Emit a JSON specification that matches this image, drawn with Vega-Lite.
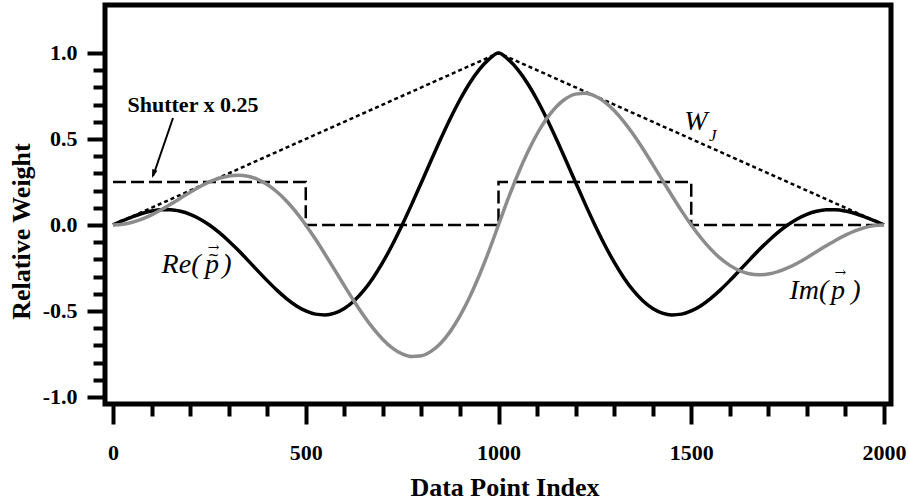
{
  "$schema": "https://vega.github.io/schema/vega-lite/v6.json",
  "width": 786,
  "height": 399,
  "autosize": "none",
  "padding": {"left": 105, "top": 5, "right": 17, "bottom": 100},
  "background": "white",
  "config": {"view": {"stroke": "black", "strokeWidth": 5}},
  "datasets": {
    "curves": [
      {"n":0,"re":0,"im":0},{"n":25,"re":0.0247,"im":0.0039},{"n":50,"re":0.0476,"im":0.0155},{"n":75,"re":0.0668,"im":0.034},
      {"n":100,"re":0.0809,"im":0.0588},{"n":125,"re":0.0884,"im":0.0884},{"n":150,"re":0.0882,"im":0.1214},{"n":175,"re":0.0794,"im":0.1559},
      {"n":200,"re":0.0618,"im":0.1902},{"n":225,"re":0.0352,"im":0.2222},{"n":250,"re":0,"im":0.25},{"n":275,"re":-0.043,"im":0.2716},
      {"n":300,"re":-0.0927,"im":0.2853},{"n":325,"re":-0.1475,"im":0.2896},{"n":350,"re":-0.2057,"im":0.2832},{"n":375,"re":-0.2652,"im":0.2652},
      {"n":400,"re":-0.3236,"im":0.2351},{"n":425,"re":-0.3787,"im":0.1929},{"n":450,"re":-0.428,"im":0.1391},{"n":475,"re":-0.4692,"im":0.0743},
      {"n":500,"re":-0.5,"im":0},{"n":525,"re":-0.5185,"im":-0.0821},{"n":550,"re":-0.5231,"im":-0.17},{"n":575,"re":-0.5123,"im":-0.261},
      {"n":600,"re":-0.4854,"im":-0.3527},{"n":625,"re":-0.4419,"im":-0.4419},{"n":650,"re":-0.3821,"im":-0.5259},{"n":675,"re":-0.3064,"im":-0.6014},
      {"n":700,"re":-0.2163,"im":-0.6657},{"n":725,"re":-0.1134,"im":-0.7161},{"n":750,"re":0,"im":-0.75},{"n":775,"re":0.1212,"im":-0.7655},
      {"n":800,"re":0.2472,"im":-0.7608},{"n":825,"re":0.3745,"im":-0.7351},{"n":850,"re":0.4996,"im":-0.6877},{"n":875,"re":0.6187,"im":-0.6187},
      {"n":900,"re":0.7281,"im":-0.529},{"n":925,"re":0.8242,"im":-0.4199},{"n":950,"re":0.9035,"im":-0.2936},{"n":975,"re":0.963,"im":-0.1525},
      {"n":1000,"re":1,"im":0},{"n":1025,"re":0.963,"im":0.1525},{"n":1050,"re":0.9035,"im":0.2936},{"n":1075,"re":0.8242,"im":0.4199},
      {"n":1100,"re":0.7281,"im":0.529},{"n":1125,"re":0.6187,"im":0.6187},{"n":1150,"re":0.4996,"im":0.6877},{"n":1175,"re":0.3745,"im":0.7351},
      {"n":1200,"re":0.2472,"im":0.7608},{"n":1225,"re":0.1212,"im":0.7655},{"n":1250,"re":0,"im":0.75},{"n":1275,"re":-0.1134,"im":0.7161},
      {"n":1300,"re":-0.2163,"im":0.6657},{"n":1325,"re":-0.3064,"im":0.6014},{"n":1350,"re":-0.3821,"im":0.5259},{"n":1375,"re":-0.4419,"im":0.4419},
      {"n":1400,"re":-0.4854,"im":0.3527},{"n":1425,"re":-0.5123,"im":0.261},{"n":1450,"re":-0.5231,"im":0.17},{"n":1475,"re":-0.5185,"im":0.0821},
      {"n":1500,"re":-0.5,"im":0},{"n":1525,"re":-0.4692,"im":-0.0743},{"n":1550,"re":-0.428,"im":-0.1391},{"n":1575,"re":-0.3787,"im":-0.1929},
      {"n":1600,"re":-0.3236,"im":-0.2351},{"n":1625,"re":-0.2652,"im":-0.2652},{"n":1650,"re":-0.2057,"im":-0.2832},{"n":1675,"re":-0.1475,"im":-0.2896},
      {"n":1700,"re":-0.0927,"im":-0.2853},{"n":1725,"re":-0.043,"im":-0.2716},{"n":1750,"re":0,"im":-0.25},{"n":1775,"re":0.0352,"im":-0.2222},
      {"n":1800,"re":0.0618,"im":-0.1902},{"n":1825,"re":0.0794,"im":-0.1559},{"n":1850,"re":0.0882,"im":-0.1214},{"n":1875,"re":0.0884,"im":-0.0884},
      {"n":1900,"re":0.0809,"im":-0.0588},{"n":1925,"re":0.0668,"im":-0.034},{"n":1950,"re":0.0476,"im":-0.0155},{"n":1975,"re":0.0247,"im":-0.0039},
      {"n":2000,"re":0,"im":0}
    ],
    "shutter": [
      {"i":0,"n":0,"v":0.25},{"i":1,"n":500,"v":0.25},{"i":2,"n":500,"v":0},{"i":3,"n":1000,"v":0},
      {"i":4,"n":1000,"v":0.25},{"i":5,"n":1500,"v":0.25},{"i":6,"n":1500,"v":0},{"i":7,"n":2000,"v":0}
    ],
    "window": [{"n":0,"v":0},{"n":1000,"v":1},{"n":2000,"v":0}],
    "arrow": [{"n":155.6,"v":0.622,"n2":104,"v2":0.285}],
    "arrowhead": [{"n":101.2,"v":0.273}],
    "labels": [
      {"n":207.5,"v":0.698,"t":"Shutter x 0.25"}
    ],
    "italics": [
      {"n":176.4,"v":-0.279,"t":"Re(","fs":28},
      {"n":256.8,"v":-0.279,"t":"p","fs":28},
      {"n":295.7,"v":-0.279,"t":")","fs":28},
      {"n":1805.4,"v":-0.43,"t":"Im(","fs":28},
      {"n":1880.7,"v":-0.43,"t":"p","fs":28},
      {"n":1927.4,"v":-0.43,"t":")","fs":28},
      {"n":1512,"v":0.55,"t":"W","fs":28},
      {"n":1556,"v":0.49,"t":"J","fs":17}
    ],
    "accents": [
      {"n":261,"v":-0.18,"t":"~","fs":14},
      {"n":261,"v":-0.135,"t":"→","fs":14},
      {"n":1887,"v":-0.28,"t":"→","fs":14}
    ]
  },
  "layer": [
    {
      "data": {"name": "shutter"},
      "mark": {"type": "line", "color": "black", "strokeWidth": 2.5, "strokeDash": [13, 5]},
      "encoding": {
        "x": {"field": "n", "type": "quantitative", "scale": {"domain": [-20.8, 2018.2], "nice": false, "zero": false},
          "axis": {
            "values": [0,100,200,300,400,500,600,700,800,900,1000,1100,1200,1300,1400,1500,1600,1700,1800,1900,2000],
            "tickCount": 100,
            "format": "d",
            "labelExpr": "datum.value % 500 === 0 ? datum.label : ''",
            "domain": false, "grid": false,
            "ticks": true, "tickColor": "black", "tickWidth": 4,
            "tickSize": {"condition": {"test": "datum.value % 500 === 0", "value": 20}, "value": 12},
            "labelFont": "Liberation Serif", "labelFontWeight": "bold", "labelFontSize": 22, "labelColor": "black",
            "labelPadding": 18, "labelFlush": false, "labelOverlap": false,
            "title": "Data Point Index", "titleFont": "Liberation Serif", "titleFontWeight": "bold", "titleFontSize": 26, "titleColor": "black",
            "titleX": 399.5, "titleY": 91, "titleBaseline": "alphabetic", "titleAnchor": null
          }},
        "y": {"field": "v", "type": "quantitative", "scale": {"domain": [-1.041, 1.279], "nice": false, "zero": false},
          "axis": {
            "values": [-1,-0.9,-0.8,-0.7,-0.6,-0.5,-0.4,-0.3,-0.2,-0.1,0,0.1,0.2,0.3,0.4,0.5,0.6,0.7,0.8,0.9,1],
            "tickCount": 100,
            "labelExpr": "abs(round(datum.value*10)) % 5 === 0 ? (datum.value < -0.01 ? '-' + format(abs(datum.value), '.1f') : format(abs(datum.value), '.1f')) : ''",
            "domain": false, "grid": false,
            "ticks": true, "tickColor": "black", "tickWidth": 4,
            "tickSize": {"condition": {"test": "abs(round(datum.value*10)) % 5 === 0", "value": 18}, "value": 12},
            "labelFont": "Liberation Serif", "labelFontWeight": "bold", "labelFontSize": 22, "labelColor": "black",
            "labelPadding": 10, "labelFlush": false, "labelOverlap": false,
            "title": "Relative Weight", "titleFont": "Liberation Serif", "titleFontWeight": "bold", "titleFontSize": 26, "titleColor": "black",
            "titleX": -76, "titleY": 226, "titleBaseline": "alphabetic", "titleAngle": -90, "titleAnchor": null
          }},
        "order": {"field": "i", "type": "quantitative"}
      }
    },
    {
      "data": {"name": "window"},
      "mark": {"type": "line", "color": "black", "strokeWidth": 2.5, "strokeDash": [4, 3]},
      "encoding": {
        "x": {"field": "n", "type": "quantitative"},
        "y": {"field": "v", "type": "quantitative"}
      }
    },
    {
      "data": {"name": "curves"},
      "mark": {"type": "line", "color": "black", "strokeWidth": 3.5, "interpolate": "monotone"},
      "encoding": {
        "x": {"field": "n", "type": "quantitative"},
        "y": {"field": "re", "type": "quantitative"}
      }
    },
    {
      "data": {"name": "curves"},
      "mark": {"type": "line", "color": "#8c8c8c", "strokeWidth": 3.5, "interpolate": "monotone"},
      "encoding": {
        "x": {"field": "n", "type": "quantitative"},
        "y": {"field": "im", "type": "quantitative"}
      }
    },
    {
      "data": {"name": "arrow"},
      "mark": {"type": "rule", "color": "black", "strokeWidth": 2},
      "encoding": {
        "x": {"field": "n", "type": "quantitative"},
        "y": {"field": "v", "type": "quantitative"},
        "x2": {"field": "n2"},
        "y2": {"field": "v2"}
      }
    },
    {
      "data": {"name": "arrowhead"},
      "mark": {"type": "point", "shape": "M0,0L0.45,1.4L-0.45,1.4Z", "filled": true, "color": "black", "opacity": 1, "size": 150, "angle": 199},
      "encoding": {
        "x": {"field": "n", "type": "quantitative"},
        "y": {"field": "v", "type": "quantitative"}
      }
    },
    {
      "data": {"name": "labels"},
      "mark": {"type": "text", "font": "Liberation Serif", "fontWeight": "bold", "fontSize": 22, "color": "black", "align": "center", "baseline": "middle"},
      "encoding": {
        "x": {"field": "n", "type": "quantitative"},
        "y": {"field": "v", "type": "quantitative"},
        "text": {"field": "t"}
      }
    },
    {
      "data": {"name": "italics"},
      "mark": {"type": "text", "font": "Liberation Serif", "fontStyle": "italic", "color": "black", "align": "center", "baseline": "alphabetic"},
      "encoding": {
        "x": {"field": "n", "type": "quantitative"},
        "y": {"field": "v", "type": "quantitative"},
        "text": {"field": "t"},
        "size": {"field": "fs", "type": "quantitative", "scale": null}
      }
    },
    {
      "data": {"name": "accents"},
      "mark": {"type": "text", "font": "DejaVu Serif", "color": "black", "align": "center", "baseline": "middle"},
      "encoding": {
        "x": {"field": "n", "type": "quantitative"},
        "y": {"field": "v", "type": "quantitative"},
        "text": {"field": "t"},
        "size": {"field": "fs", "type": "quantitative", "scale": null}
      }
    }
  ]
}
